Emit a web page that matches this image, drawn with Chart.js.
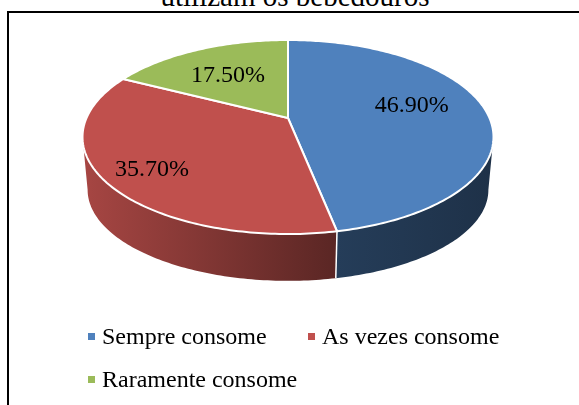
<!DOCTYPE html>
<html><head><meta charset="utf-8">
<style>
html,body{margin:0;padding:0;background:#fff;width:579px;height:405px;overflow:hidden;font-family:"Liberation Serif",serif;color:#000}
#box{position:absolute;left:7px;top:11px;width:600px;height:420px;border:2px solid #000;box-sizing:border-box}
#c{position:absolute;left:0;top:0}
#title{position:absolute;left:0;width:590px;text-align:center;top:-20px;font-size:29px;line-height:32px;white-space:nowrap}
.li{position:absolute;font-size:24px;line-height:28px;white-space:nowrap}
.li i{position:absolute;left:-14px;top:11px;width:7px;height:7px}
</style></head><body>
<div id="box"></div>
<div id="title"></div>
<canvas id="c" width="579" height="405"></canvas>
<div id="legend"></div>
<script src="https://cdn.jsdelivr.net/npm/chart.js@4"></script>
<script>
const categories = ["Sempre consome", "As vezes consome", "Raramente consome"];
const values = [46.9, 35.7, 17.5];
const valueLabels = ["46.90%", "35.70%", "17.50%"];
const colors = ["#4F81BD", "#C0504D", "#9BBB59"];
const titleText = "utilizam os bebedouros";

// perspective view of the pie disc
const view = {cx:288, cy:118, k:0.196, R:201.5, S:93.3, Rb:196.5, Sb:87.5, d:54};
const labelRadius = [0.63, 0.77, 0.63];
const labelShift = [[-1,-7],[0,4],[0,3]];
const legendPos = [[102,322],[322,322],[102,365]];

function rimTop(a, f=1){const u=Math.cos(a)*f, v=Math.sin(a)*f, w=1-view.k*v;
  return [view.cx+view.R*u/w, view.cy+view.S*v/w];}
function rimBot(a){const u=Math.cos(a), v=Math.sin(a), w=1-view.k*v;
  return [view.cx+view.Rb*u/w, view.cy+view.d+view.Sb*v/w];}
function steps(a0,a1){const n=Math.max(2,Math.ceil(Math.abs(a1-a0)*60)),o=[];
  for(let i=0;i<=n;i++)o.push(a0+(a1-a0)*i/n);return o;}
function shade(hex,f){const n=parseInt(hex.slice(1),16);
  return `rgb(${Math.round((n>>16)*f)},${Math.round(((n>>8)&255)*f)},${Math.round((n&255)*f)})`;}
// angles of the visible front wall, between the two widest points of the rim
const frontStart = Math.asin(view.k), frontEnd = Math.PI - frontStart;

Chart.ArcElement.prototype.draw = function(ctx){
  const p=this.getProps(['startAngle','endAngle']);
  ctx.save();
  ctx.beginPath();
  ctx.moveTo(view.cx,view.cy);
  steps(p.startAngle,p.endAngle).forEach(a=>{const q=rimTop(a);ctx.lineTo(q[0],q[1]);});
  ctx.closePath();
  ctx.fillStyle=this.options.backgroundColor;
  ctx.fill();
  ctx.lineJoin='round';
  ctx.strokeStyle='#fff';
  ctx.lineWidth=2;
  ctx.stroke();
  ctx.restore();
};

const walls = {id:'walls', beforeDatasetsDraw(chart){
  const ctx=chart.ctx;
  chart.getDatasetMeta(0).data.forEach((arc,i)=>{
    const p=arc.getProps(['startAngle','endAngle']);
    const s=Math.max(p.startAngle,frontStart), e=Math.min(p.endAngle,frontEnd);
    if(e<=s)return;
    const g=ctx.createLinearGradient(82,0,493,0);
    g.addColorStop(0,shade(colors[i],0.87));
    g.addColorStop(0.62,shade(colors[i],0.47));
    g.addColorStop(1,shade(colors[i],0.38));
    const as=steps(s,e);
    ctx.save();
    ctx.beginPath();
    as.forEach((a,j)=>{const q=rimTop(a);j?ctx.lineTo(q[0],q[1]):ctx.moveTo(q[0],q[1]);});
    as.slice().reverse().forEach(a=>{const q=rimBot(a);ctx.lineTo(q[0],q[1]);});
    ctx.closePath();
    ctx.fillStyle=g;
    ctx.fill();
    ctx.restore();
  });
  chart.getDatasetMeta(0).data.forEach(arc=>{
    const e=arc.getProps(['endAngle']).endAngle;
    if(e>frontStart&&e<frontEnd){const a=rimTop(e),b=rimBot(e);
      ctx.save();ctx.strokeStyle='#fff';ctx.lineWidth=1.5;
      ctx.beginPath();ctx.moveTo(a[0],a[1]);ctx.lineTo(b[0],b[1]);ctx.stroke();ctx.restore();}
  });
}};

const sliceLabels = {id:'sliceLabels', afterDatasetsDraw(chart){
  const ctx=chart.ctx;
  chart.getDatasetMeta(0).data.forEach((arc,i)=>{
    const p=arc.getProps(['startAngle','endAngle']);
    const q=rimTop((p.startAngle+p.endAngle)/2,labelRadius[i]);
    ctx.save();
    ctx.font='24px "Liberation Serif"';
    ctx.fillStyle='#000';ctx.textAlign='center';ctx.textBaseline='middle';
    ctx.fillText(valueLabels[i],q[0]+labelShift[i][0],q[1]+labelShift[i][1]);
    ctx.restore();
  });
}};

new Chart(document.getElementById('c'),{
  type:'pie',
  data:{labels:categories,datasets:[{data:values,backgroundColor:colors,borderColor:'#fff',borderWidth:2}]},
  options:{responsive:false,animation:false,
    plugins:{legend:{display:false},tooltip:{enabled:false},title:{display:false}}},
  plugins:[walls,sliceLabels]
});

document.getElementById('title').textContent=titleText;
const lg=document.getElementById('legend');
categories.forEach((c,i)=>{
  const d=document.createElement('div');d.className='li';
  d.style.left=legendPos[i][0]+'px';d.style.top=legendPos[i][1]+'px';
  d.textContent=c;
  const m=document.createElement('i');m.style.background=colors[i];d.appendChild(m);
  lg.appendChild(d);
});
</script>
</body></html>
